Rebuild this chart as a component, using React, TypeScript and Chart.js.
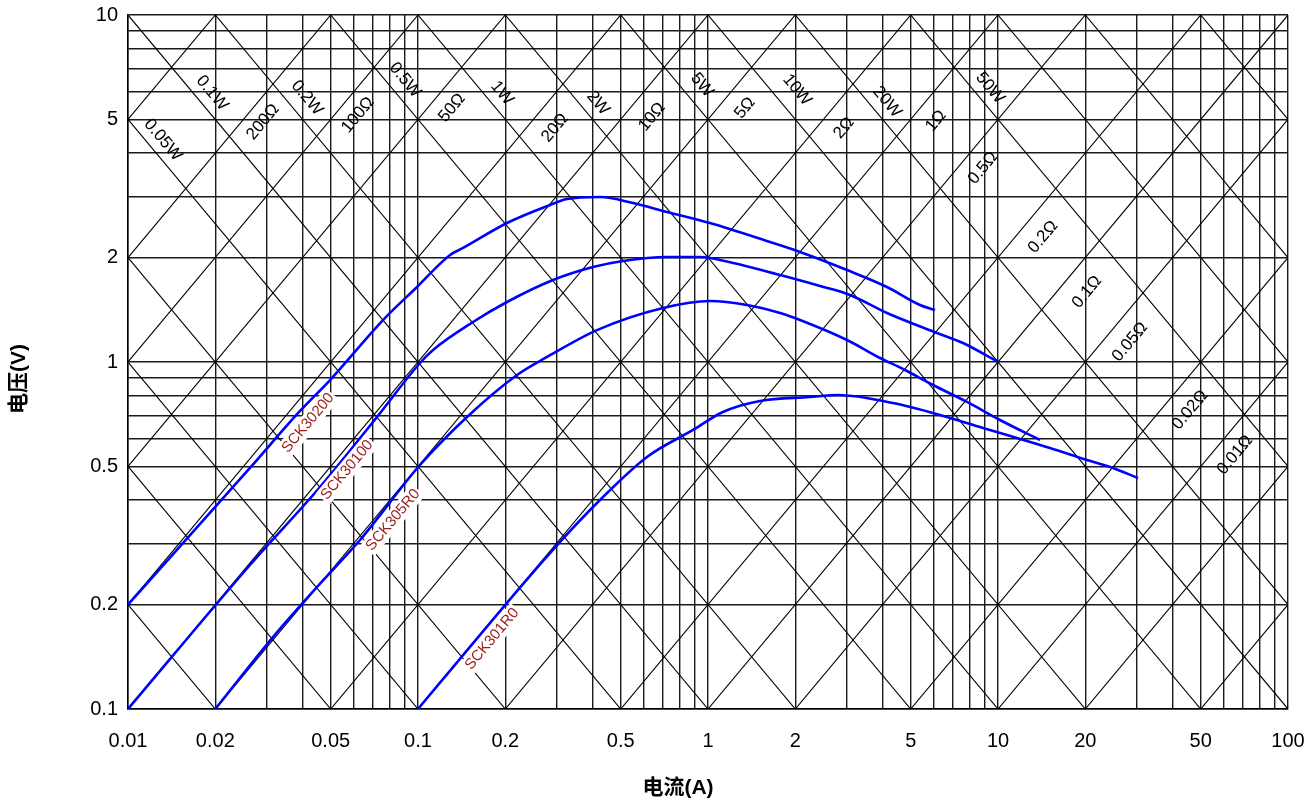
import React, { useEffect, useRef } from 'react';
import { Chart, registerables } from 'chart.js';

Chart.register(...registerables);

// ---- axes ----
const CURRENT_MIN = 0.01;
const CURRENT_MAX = 100;
const VOLTAGE_MIN = 0.1;
const VOLTAGE_MAX = 10;
const X_TICK_LABELS = [0.01, 0.02, 0.05, 0.1, 0.2, 0.5, 1, 2, 5, 10, 20, 50, 100];
const Y_TICK_LABELS = [0.1, 0.2, 0.5, 1, 2, 5, 10];
const X_GRID_DECADES = [0.01, 0.1, 1, 10];
const Y_GRID_DECADES = [0.1, 1];
const GRID_MULTIPLES = [1, 2, 3, 4, 5, 6, 7, 8, 9];
const X_TITLE = '电流(A)';
const Y_TITLE = '电压(V)';

// ---- constant power / constant resistance reference lines ----
const POWER_W = [0.002, 0.005, 0.01, 0.02, 0.05, 0.1, 0.2, 0.5, 1, 2, 5, 10, 20, 50, 100, 200, 500];
const RESIST_OHM = [500, 200, 100, 50, 20, 10, 5, 2, 1, 0.5, 0.2, 0.1, 0.05, 0.02, 0.01, 0.005, 0.002];

const POWER_LABEL_TEXT = ['0.05W', '0.1W', '0.2W', '0.5W', '1W', '2W', '5W', '10W', '20W', '50W'];
const POWER_LABEL_I = [0.0132, 0.01949, 0.04142, 0.0902, 0.1949, 0.4175, 0.9535, 2.027, 4.142, 9.385];
const POWER_LABEL_V = [4.363, 5.961, 5.767, 6.497, 5.961, 5.578, 6.284, 6.079, 5.615, 6.16];

const RES_LABEL_TEXT = ['200Ω', '100Ω', '50Ω', '20Ω', '10Ω', '5Ω', '2Ω', '1Ω', '0.5Ω', '0.2Ω', '0.1Ω', '0.05Ω', '0.02Ω', '0.01Ω'];
const RES_LABEL_I = [0.02921, 0.0621, 0.131, 0.2968, 0.6411, 1.342, 2.944, 6.113, 8.878, 14.3, 20.27, 28.52, 45.94, 65.64];
const RES_LABEL_V = [4.917, 5.151, 5.396, 4.726, 5.083, 5.396, 4.726, 4.95, 3.624, 2.293, 1.591, 1.142, 0.7271, 0.5395];

// ---- device curves ----
const SERIES_NAMES = ['SCK30200', 'SCK30100', 'SCK305R0', 'SCK301R0'];
const SERIES_LABEL_I = [0.04175, 0.05691, 0.08199, 0.18];
const SERIES_LABEL_V = [0.667, 0.4885, 0.3505, 0.1591];

const SCK30200_I = [0.01, 0.02634, 0.03919, 0.04974, 0.07574, 0.0992, 0.129, 0.143, 0.2027, 0.2852, 0.3265, 0.4242, 0.5513, 0.7222, 1.016, 1.636, 2.076, 3.015, 4.142, 5.383, 6.065];
const SCK30200_V = [0.2, 0.495, 0.7226, 0.8873, 1.321, 1.645, 2.034, 2.131, 2.515, 2.835, 2.949, 2.989, 2.872, 2.706, 2.515, 2.217, 2.075, 1.841, 1.645, 1.46, 1.412];

const SCK30100_I = [0.01, 0.02634, 0.04594, 0.07222, 0.1016, 0.1127, 0.1548, 0.2027, 0.2921, 0.4012, 0.5092, 0.7222, 0.9385, 1.016, 1.772, 2.433, 3.088, 4.142, 6.162, 7.574, 10];
const SCK30100_V = [0.1, 0.26, 0.4362, 0.6944, 0.9934, 1.083, 1.304, 1.489, 1.723, 1.878, 1.955, 2.007, 2.007, 1.994, 1.781, 1.656, 1.56, 1.384, 1.212, 1.134, 1.0];

const SCK305R0_I = [0.02, 0.03162, 0.04485, 0.0631, 0.1016, 0.1476, 0.2195, 0.2786, 0.4142, 0.6996, 1.016, 1.363, 1.772, 2.076, 3.015, 3.919, 4.704, 5.97, 7.82, 10.16, 13.95];
const SCK305R0_V = [0.1, 0.1612, 0.2247, 0.3069, 0.5049, 0.6944, 0.9173, 1.034, 1.236, 1.431, 1.499, 1.46, 1.384, 1.321, 1.157, 1.027, 0.9546, 0.8585, 0.7671, 0.6806, 0.5958];

const SCK301R0_I = [0.1, 0.1207, 0.2852, 0.4242, 0.6162, 0.8878, 1.126, 1.511, 2.247, 2.808, 4.345, 6.31, 8.878, 11.63, 15.11, 20.27, 24.93, 30.39];
const SCK301R0_V = [0.1, 0.1207, 0.2815, 0.4002, 0.5325, 0.637, 0.7177, 0.7721, 0.7928, 0.8034, 0.7616, 0.7036, 0.6454, 0.6039, 0.5653, 0.522, 0.495, 0.463];

const SERIES_I = [SCK30200_I, SCK30100_I, SCK305R0_I, SCK301R0_I];
const SERIES_V = [SCK30200_V, SCK30100_V, SCK305R0_V, SCK301R0_V];

// ---- helpers ----
const round6 = (v: number) => parseFloat(v.toPrecision(6));
const gridValues = (decades: number[], max: number) => {
  const out: number[] = [];
  decades.forEach((d) => GRID_MULTIPLES.forEach((m) => out.push(round6(d * m))));
  out.push(max);
  return out;
};
const hasLabel = (list: number[], v: number) => list.some((t) => Math.abs(t - v) / t < 1e-6);

const LATIN = '"Liberation Sans", Arial, Helvetica, sans-serif';
const TITLE_FONT = 'bold 21px "Liberation Sans", Arial, "Noto Sans CJK SC", sans-serif';

const noPad = (s: any) => {
  s.paddingTop = 0;
  s.paddingBottom = 0;
  s.paddingLeft = 0;
  s.paddingRight = 0;
};

const overlayPlugin = {
  id: 'overlayLabels',
  afterDatasetsDraw(chart: any) {
    const { ctx, chartArea } = chart;
    const xs = chart.scales.x;
    const ys = chart.scales.y;
    const px = (i: number) => xs.getPixelForValue(i);
    const py = (v: number) => ys.getPixelForValue(v);
    const powerAngle = Math.atan2(py(0.1) - py(1), px(10) - px(1));
    const resAngle = Math.atan2(py(10) - py(1), px(10) - px(1));

    ctx.save();
    ctx.beginPath();
    ctx.rect(chartArea.left, chartArea.top, chartArea.right - chartArea.left, chartArea.bottom - chartArea.top);
    ctx.clip();
    ctx.textAlign = 'center';
    ctx.textBaseline = 'middle';

    const drawRot = (text: string, x: number, y: number, ang: number, font: string, color: string, bg: boolean) => {
      ctx.save();
      ctx.translate(x, y);
      ctx.rotate(ang);
      ctx.font = font;
      if (bg) {
        const w = ctx.measureText(text).width;
        ctx.fillStyle = '#ffffff';
        ctx.fillRect(-w / 2 - 2, -9, w + 4, 18);
      }
      ctx.fillStyle = color;
      ctx.fillText(text, 0, 0);
      ctx.restore();
    };

    POWER_LABEL_TEXT.forEach((t, k) => drawRot(t, px(POWER_LABEL_I[k]), py(POWER_LABEL_V[k]), powerAngle, `17px ${LATIN}`, '#000', false));
    RES_LABEL_TEXT.forEach((t, k) => drawRot(t, px(RES_LABEL_I[k]), py(RES_LABEL_V[k]), resAngle, `17px ${LATIN}`, '#000', false));
    SERIES_NAMES.forEach((t, k) => drawRot(t, px(SERIES_LABEL_I[k]), py(SERIES_LABEL_V[k]), resAngle, `15px ${LATIN}`, '#9b1c1c', true));
    ctx.restore();

    // axis titles
    ctx.save();
    ctx.font = TITLE_FONT;
    ctx.fillStyle = '#000';
    ctx.textAlign = 'center';
    ctx.textBaseline = 'middle';
    ctx.fillText(X_TITLE, (chartArea.left + chartArea.right) / 2 - 30, chart.height - 12);
    ctx.translate(19, (chartArea.top + chartArea.bottom) / 2 + 17);
    ctx.rotate(-Math.PI / 2);
    ctx.fillText(Y_TITLE, 0, 0);
    ctx.restore();
  },
};

export default function App() {
  const canvasRef = useRef<HTMLCanvasElement | null>(null);

  useEffect(() => {
    const canvas = canvasRef.current;
    if (!canvas) return;

    const diagonal: any[] = [];
    POWER_W.forEach((p) => {
      const i1 = Math.max(CURRENT_MIN, p / VOLTAGE_MAX);
      const i2 = Math.min(CURRENT_MAX, p / VOLTAGE_MIN);
      if (i2 <= i1) return;
      diagonal.push({
        data: [{ x: i1, y: p / i1 }, { x: i2, y: p / i2 }],
        borderColor: '#000', borderWidth: 1.15, pointRadius: 0, order: 2, tension: 0,
      });
    });
    RESIST_OHM.forEach((r) => {
      const i1 = Math.max(CURRENT_MIN, VOLTAGE_MIN / r);
      const i2 = Math.min(CURRENT_MAX, VOLTAGE_MAX / r);
      if (i2 <= i1) return;
      diagonal.push({
        data: [{ x: i1, y: r * i1 }, { x: i2, y: r * i2 }],
        borderColor: '#000', borderWidth: 1.15, pointRadius: 0, order: 2, tension: 0,
      });
    });

    const curves = SERIES_NAMES.map((name, k) => ({
      label: name,
      data: SERIES_I[k].map((i, j) => ({ x: i, y: SERIES_V[k][j] })),
      borderColor: '#0000ff',
      borderWidth: 2.6,
      pointRadius: 0,
      cubicInterpolationMode: 'monotone',
      order: 1,
    }));

    const xGrid = gridValues(X_GRID_DECADES, CURRENT_MAX);
    const yGrid = gridValues(Y_GRID_DECADES, VOLTAGE_MAX);

    const chart = new Chart(canvas, {
      type: 'line',
      data: { datasets: [...curves, ...diagonal] as any },
      options: {
        animation: false,
        responsive: false,
        parsing: false as any,
        normalized: true,
        layout: { padding: { top: 15, right: 24, left: 0, bottom: 0 } },
        plugins: { legend: { display: false }, tooltip: { enabled: false }, title: { display: false } },
        scales: {
          x: {
            type: 'logarithmic',
            min: CURRENT_MIN,
            max: CURRENT_MAX,
            afterBuildTicks: (s: any) => { s.ticks = xGrid.map((v) => ({ value: v })); },
            afterFit: (s: any) => { s.height = 91; noPad(s); },
            ticks: {
              autoSkip: false,
              maxRotation: 0,
              padding: 20,
              color: '#000',
              font: { family: LATIN, size: 20 },
              callback: (v: any) => (hasLabel(X_TICK_LABELS, Number(v)) ? String(Number(v)) : ''),
            },
            grid: { color: '#1a1a1a', lineWidth: 1.4, drawTicks: false },
            border: { color: '#000', width: 1.5 },
          },
          y: {
            type: 'logarithmic',
            min: VOLTAGE_MIN,
            max: VOLTAGE_MAX,
            afterBuildTicks: (s: any) => { s.ticks = yGrid.map((v) => ({ value: v })); },
            afterFit: (s: any) => { s.width = 128; noPad(s); },
            ticks: {
              autoSkip: false,
              padding: 10,
              color: '#000',
              font: { family: LATIN, size: 20 },
              callback: (v: any) => (hasLabel(Y_TICK_LABELS, Number(v)) ? String(Number(v)) : ''),
            },
            grid: { color: '#1a1a1a', lineWidth: 1.4, drawTicks: false },
            border: { color: '#000', width: 1.5 },
          },
        },
      } as any,
      plugins: [overlayPlugin],
    });

    return () => chart.destroy();
  }, []);

  return (
    <div style={{ position: 'absolute', left: 0, top: 0, width: 1312, height: 800, background: '#fff' }}>
      <canvas ref={canvasRef} width={1312} height={800} style={{ display: 'block' }} />
    </div>
  );
}
